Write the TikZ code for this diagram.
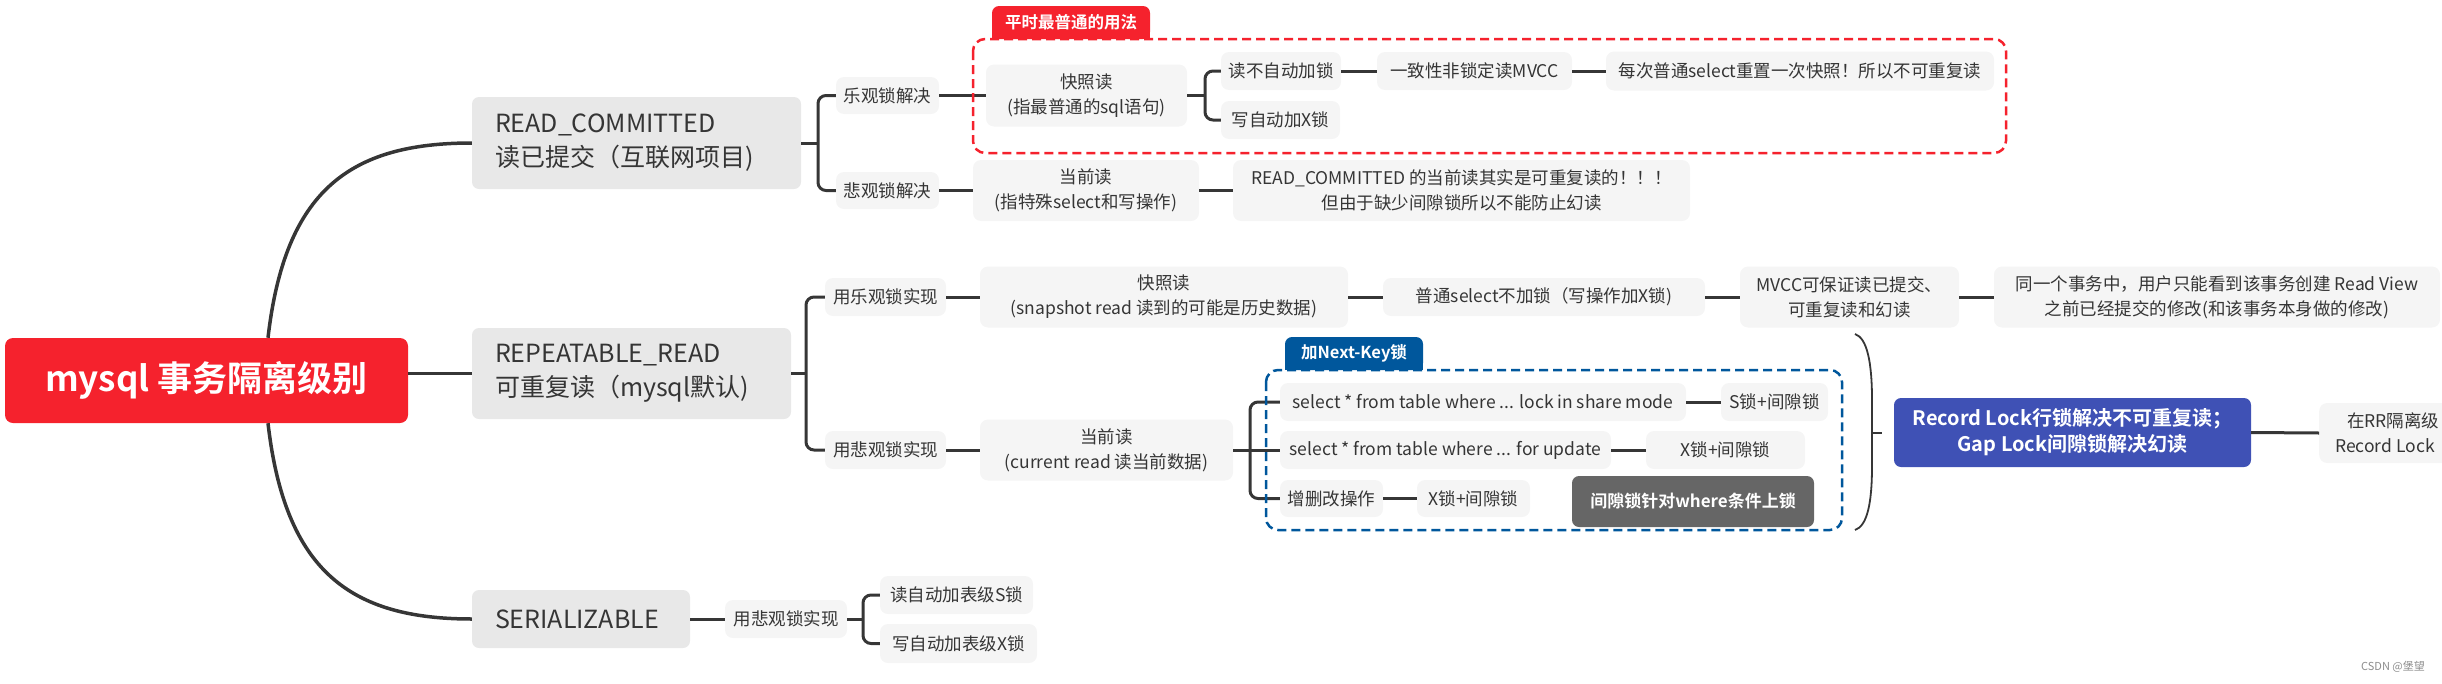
\documentclass[tikz,border=0pt]{standalone}
\usepackage{fontspec}
\setmainfont{Noto Sans CJK SC}[BoldFont={Noto Sans CJK SC Bold}]
\usepackage{xcolor}
\usepackage{tikz}

\definecolor{rootred}{HTML}{F5222D}
\definecolor{lvlgray}{HTML}{E8E8E8}
\definecolor{leafgray}{HTML}{F5F5F5}
\definecolor{inkgray}{HTML}{353535}
\definecolor{linegray}{HTML}{363636}
\definecolor{nkblue}{HTML}{00579C}
\definecolor{lockblue}{HTML}{3F51B5}
\definecolor{notegray}{HTML}{666666}

\begin{document}
\begin{tikzpicture}[x=1pt,y=-1pt,
        root node/.style={fill=rootred,rounded corners=8pt,text=white,inner sep=0pt,font=\fontsize{35}{42}\selectfont\bfseries},
        level node/.style={fill=lvlgray,rounded corners=7pt,text=inkgray,inner ysep=0pt,inner xsep=23pt,align=left,font=\fontsize{25}{34}\selectfont},
        leaf node/.style={fill=leafgray,rounded corners=8pt,text=inkgray,inner sep=0pt,align=center,font=\fontsize{17.5}{25}\selectfont},
        tag node/.style={rounded corners=7pt,text=white,inner sep=0pt,align=center,font=\fontsize{16.5}{20}\selectfont\bfseries},
        main branch/.style={draw=linegray,line width=3.5pt},
        branch/.style={draw=linegray,line width=3pt},
        fork/.style={draw=linegray,line width=3pt,rounded corners=8pt},
        frame/.style={line width=2.5pt,dash pattern=on 9pt off 5pt,rounded corners=12pt}
      ]
      \useasboundingbox (0,0) rectangle (2442,683);
      \clip (0,0) rectangle (2442,683);

      % root and the three isolation levels
      \node[root node,minimum width=403,minimum height=85] (root) at (206.5,380.5) {mysql 事务隔离级别};
      \node[level node,text width=283,minimum height=92] (rc) at (636.5,143) {READ\_COMMITTED\\读已提交（互联网项目)};
      \node[level node,text width=273,minimum height=91] (rr) at (631.5,373.5) {REPEATABLE\_READ\\可重复读（mysql默认)};
      \node[level node,text width=172,minimum height=58] (ser) at (581,619) {SERIALIZABLE};

      % READ_COMMITTED
      \node[leaf node,minimum width=103,minimum height=37] (rcopt) at (887.5,95.5) {乐观锁解决};
      \node[leaf node,minimum width=103,minimum height=37] (rcpes) at (887.5,190.5) {悲观锁解决};
      \node[leaf node,minimum width=201,minimum height=62] (rcsnap) at (1086.5,95.5) {快照读\\(指最普通的sql语句)};
      \node[leaf node,minimum width=120,minimum height=38] (rcnolock) at (1281,71) {读不自动加锁};
      \node[leaf node,minimum width=119,minimum height=38] (rcxlock) at (1280.5,120) {写自动加X锁};
      \node[leaf node,minimum width=195,minimum height=38] (rcmvcc) at (1474.5,71) {一致性非锁定读MVCC};
      \node[leaf node,minimum width=388,minimum height=39] (rcreset) at (1800,71) {每次普通select重置一次快照！所以不可重复读};
      \node[leaf node,minimum width=226,minimum height=61] (rccur) at (1086,190.5) {当前读\\(指特殊select和写操作)};
      \node[leaf node,minimum width=457,minimum height=61] (rcnote) at (1461.5,190.5) {READ\_COMMITTED 的当前读其实是可重复读的！！！\\但由于缺少间隙锁所以不能防止幻读};

      % REPEATABLE_READ
      \node[leaf node,minimum width=121,minimum height=38] (rropt) at (885.5,297) {用乐观锁实现};
      \node[leaf node,minimum width=121,minimum height=38] (rrpes) at (885.5,450) {用悲观锁实现};
      \node[leaf node,minimum width=368,minimum height=61] (rrsnap) at (1164,297) {快照读\\(snapshot read 读到的可能是历史数据)};
      \node[leaf node,minimum width=322,minimum height=38] (rrplain) at (1544,297) {普通select不加锁（写操作加X锁)};
      \node[leaf node,minimum width=219,minimum height=61] (rrmvcc) at (1849.5,297) {MVCC可保证读已提交、\\可重复读和幻读};
      \node[leaf node,minimum width=446,minimum height=61] (rrview) at (2217,297) {同一个事务中，用户只能看到该事务创建 Read View\\之前已经提交的修改(和该事务本身做的修改)};
      \node[leaf node,minimum width=253,minimum height=61] (rrcur) at (1106.5,450) {当前读\\(current read 读当前数据)};
      \node[leaf node,minimum width=406,minimum height=38] (rrshare) at (1483,402) {select * from table where ... lock in share mode};
      \node[leaf node,minimum width=107,minimum height=38] (rrshareS) at (1774.5,402) {S锁+间隙锁};
      \node[leaf node,minimum width=331,minimum height=38] (rrupd) at (1445.5,450) {select * from table where ... for update};
      \node[leaf node,minimum width=159,minimum height=38] (rrupdX) at (1725.5,450) {X锁+间隙锁};
      \node[leaf node,minimum width=103,minimum height=37] (rrdml) at (1331.5,498.5) {增删改操作};
      \node[leaf node,minimum width=113,minimum height=37] (rrdmlX) at (1473.5,498.5) {X锁+间隙锁};
      \node[tag node,fill=notegray,minimum width=242,minimum height=51,font=\fontsize{17}{20}\selectfont\bfseries] (gapnote) at (1693,501.5) {间隙锁针对where条件上锁};
      \node[tag node,fill=lockblue,minimum width=357,minimum height=69,font=\fontsize{20}{26}\selectfont\bfseries] (rrlock) at (2072.5,432.5) {Record Lock行锁解决不可重复读；\\Gap Lock间隙锁解决幻读};
      \node[leaf node,anchor=west,align=left,minimum height=60,inner xsep=16pt] (rrrr) at (2319,433) {\hspace*{12pt}在RR隔离级\\Record Lock};

      % SERIALIZABLE
      \node[leaf node,minimum width=122,minimum height=38] (serpes) at (786,619) {用悲观锁实现};
      \node[leaf node,minimum width=153,minimum height=38] (sers) at (956.5,595) {读自动加表级S锁};
      \node[leaf node,minimum width=157,minimum height=39] (serx) at (958.5,643.5) {写自动加表级X锁};

      % fork points
      \coordinate (rcx) at (818,143);
      \coordinate (rcsnapx) at (1205,95.5);
      \coordinate (rrx) at (806,373.5);
      \coordinate (rrcurx) at (1250,450);
      \coordinate (serpesx) at (863,619);
      \coordinate (bracetip) at (1872,433);

      % connectors
      \draw[main branch] ([xshift=61.5pt]root.north) .. controls (285,190) and (350,143) .. (rc.west);
      \draw[main branch] ([xshift=61.5pt]root.south) .. controls (285,571) and (350,619) .. (ser.west);
      \draw[main branch] (root.east |- rr.west) -- (rr.west);

      \path[branch]
        (rc.east) edge (rcx)
        (rcopt.east) edge (rcsnap.west)
        (rcsnap.east) edge (rcsnapx)
        (rcnolock.east) edge (rcmvcc.west)
        (rcmvcc.east) edge (rcreset.west)
        (rcpes.east) edge (rccur.west)
        (rccur.east) edge (rcnote.west)
        (rr.east) edge (rrx)
        (rropt.east) edge (rrsnap.west)
        (rrsnap.east) edge (rrplain.west)
        (rrplain.east) edge (rrmvcc.west)
        (rrmvcc.east) edge (rrview.west)
        (rrpes.east) edge (rrcur.west)
        (rrcur.east) edge (rrupd.west)
        (rrshare.east) edge (rrshareS.west)
        (rrupd.east) edge (rrupdX.west)
        (rrdml.east) edge (rrdmlX.west)
        (rrlock.east) edge (rrrr.west)
        (ser.east) edge (serpes.west)
        (serpes.east) edge (serpesx);

      \draw[fork] (rcopt.west) -| (rcx) |- (rcpes.west);
      \draw[fork] (rcnolock.west) -| (rcsnapx) |- (rcxlock.west);
      \draw[fork] (rropt.west) -| (rrx) |- (rrpes.west);
      \draw[fork] (rrshare.west) -| (rrcurx) |- (rrdml.west);
      \draw[fork] (sers.west) -| (serpesx) |- (serx.west);

      % brace in front of the lock summary
      \draw[linegray,line width=1.8pt] (1855,334) .. controls (1867,338) and (1872,362) .. (1872,400) -- (bracetip) -- (1872,466) .. controls (1872,504) and (1867,526) .. (1855,530);
      \draw[linegray,line width=1.8pt] (bracetip) -- ++(10,0);

      % dashed groups with their tags
      \draw[frame,draw=rootred] (973,39) rectangle (2006,153);
      \fill[rootred] (992,24) rectangle (1150,39);
      \node[tag node,fill=rootred,minimum width=158,minimum height=33] (rctag) at (1071,22.5) {平时最普通的用法};
      \draw[frame,draw=nkblue] (1266,370) rectangle (1842,530);
      \fill[nkblue] (1285,355) rectangle (1423,370);
      \node[tag node,fill=nkblue,minimum width=138,minimum height=33] (nktag) at (1354,353.5) {加Next-Key锁};

      \node[text=black!45,font=\fontsize{11}{13}\selectfont] (mark) at (2393,667) {CSDN @堡望};
    \end{tikzpicture}
\end{document}
